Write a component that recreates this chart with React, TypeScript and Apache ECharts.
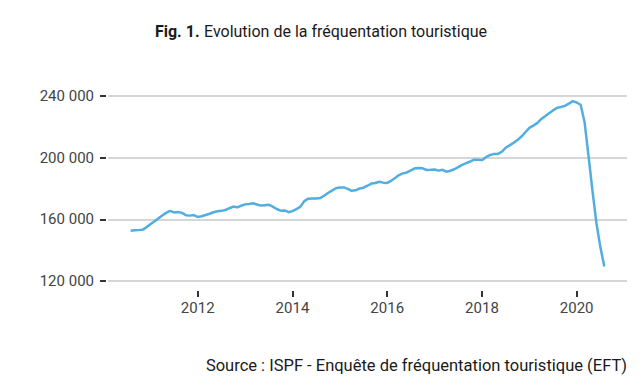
import React, { useEffect, useRef } from "react";
import * as echarts from "echarts";

// Monthly series, Aug 2010 -> Aug 2020
const startYear = 2010;
const startMonth = 8;
const visitors: number[] = [
  152600, 152900, 153000, 153200, 154800, // Aug-Dec 2010
  156800, 158600, 160600, 162500, 164200, 165500, 164500, 164800, 164200, 162700, 162400, 162800, // 2011
  161600, 162000, 162800, 163600, 164600, 165200, 165500, 166000, 167200, 168300, 167800, 168800, // 2012
  169700, 170000, 170400, 169600, 168900, 169200, 169500, 168200, 166700, 165600, 165800, 164600, // 2013
  165300, 166600, 168200, 171800, 173400, 173500, 173500, 173800, 175300, 177100, 178600, 180200, // 2014
  180600, 180700, 179800, 178500, 178800, 180000, 180500, 181800, 183200, 183600, 184400, 183800, // 2015
  183600, 185000, 186800, 188700, 189800, 190400, 191800, 193100, 193300, 193100, 192000, 192100, // 2016
  192300, 191600, 192100, 190900, 191500, 192500, 193900, 195300, 196400, 197500, 198700, 198700, // 2017
  198400, 200300, 201700, 202300, 202400, 203800, 206400, 208000, 209600, 211400, 213700, 216500, // 2018
  219300, 220800, 222400, 225000, 226900, 228800, 230600, 232300, 232900, 233600, 235000, 236700, // 2019
  235800, 234300, 223000, 201000, 178500, 157500, 142000, 129400, // Jan-Aug 2020
];
const yearTicks: number[] = [2012, 2014, 2016, 2018, 2020];
const yTicks: number[] = [120000, 160000, 200000, 240000];

const titleBold = "Fig. 1.";
const titleText = "Evolution de la fréquentation touristique";
const sourceText = "Source : ISPF - Enquête de fréquentation touristique (EFT)";

const FONT = "Roboto, 'Noto Sans', sans-serif";

export default function App() {
  const ref = useRef<HTMLDivElement>(null);
  useEffect(() => {
    if (!ref.current) return;
    const chart = echarts.init(ref.current, undefined, { renderer: "svg" });
    const data = visitors.map((v, i) => [startYear + (startMonth - 1 + i) / 12, v]);
    chart.setOption({
      animation: false,
      backgroundColor: "#ffffff",
      textStyle: { fontFamily: FONT },
      title: {
        text: `{b|${titleBold}} {n|${titleText}}`,
        left: "center",
        top: 21,
        padding: 0,
        textStyle: {
          rich: {
            b: { fontFamily: FONT, fontWeight: "bold", fontSize: 16, lineHeight: 20, color: "#1a1a1a" },
            n: { fontFamily: FONT, fontWeight: "normal", fontSize: 16, lineHeight: 20, color: "#1a1a1a" },
          },
        },
      },
      grid: { left: 108, right: 15, top: 96, bottom: 110, containLabel: false },
      xAxis: {
        type: "value",
        min: 2010.106,
        max: 2021.062,
        offset: 10,
        axisLine: { show: false },
        splitLine: { show: false },
        axisTick: {
          show: true,
          length: 6,
          lineStyle: { color: "#333333", width: 2 },
          customValues: yearTicks,
        },
        axisLabel: {
          margin: 9,
          fontSize: 15,
          color: "#444444",
          fontFamily: FONT,
          customValues: yearTicks,
          formatter: (v: number) => String(Math.round(v)),
        },
      },
      yAxis: {
        type: "value",
        min: 120000,
        max: 240000,
        interval: 40000,
        offset: 2,
        axisLine: { show: false },
        axisTick: { show: true, length: 6, lineStyle: { color: "#333333", width: 2 } },
        splitLine: { show: true, lineStyle: { color: "#d6d6d6", width: 2 } },
        axisLabel: {
          margin: 12,
          fontSize: 15,
          color: "#444444",
          fontFamily: FONT,
          customValues: yTicks,
          formatter: (v: number) => String(v).replace(/\B(?=(\d{3})+(?!\d))/g, " "),
        },
      },
      series: [
        {
          type: "line",
          data,
          showSymbol: false,
          symbol: "none",
          lineStyle: { color: "#52aee0", width: 2.5 },
          z: 3,
        },
      ],
      graphic: [
        {
          type: "text",
          right: 15,
          top: 357,
          style: {
            text: sourceText,
            fontFamily: FONT,
            fontSize: 16.5,
            fill: "#1a1a1a",
          },
        },
      ],
    });
    return () => chart.dispose();
  }, []);
  return <div ref={ref} style={{ width: 642, height: 391, position: "absolute", left: 0, top: 0 }} />;
}
